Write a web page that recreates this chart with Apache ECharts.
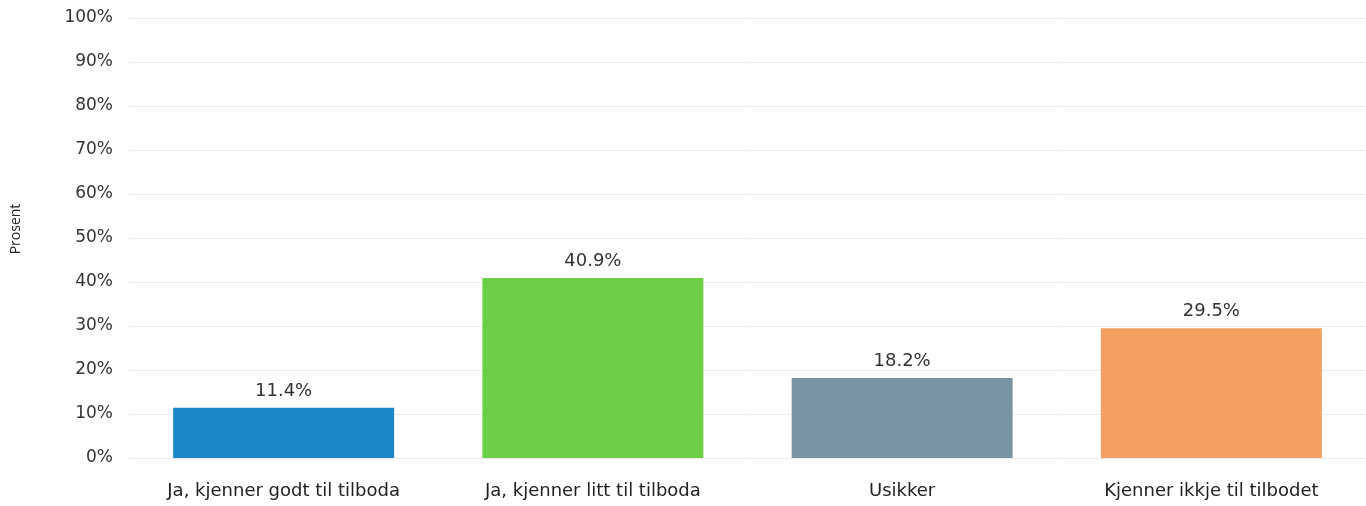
<!DOCTYPE html>
<html>
<head>
<meta charset="utf-8">
<script src="https://cdn.jsdelivr.net/npm/echarts@6/dist/echarts.min.js"></script>
<style>html,body{margin:0;padding:0;background:#fff;}#c{width:1366px;height:506px;}</style>
</head>
<body>
<div id="c"></div>
<script>
const categories = ["Ja, kjenner godt til tilboda", "Ja, kjenner litt til tilboda", "Usikker", "Kjenner ikkje til tilbodet"];
const values = [11.4, 40.9, 18.2, 29.5];
const barColors = ["#1b87c8", "#6dcf47", "#7a94a3", "#f4a062"];
const yTicks = [0, 10, 20, 30, 40, 50, 60, 70, 80, 90, 100];

const chart = echarts.init(document.getElementById('c'));
chart.setOption({
  animation: false,
  grid: { left: 129, right: -4, top: 18, bottom: 48 },
  xAxis: {
    type: 'category',
    data: categories,
    axisLine: { show: false },
    axisTick: { show: false },
    axisLabel: { color: '#222', fontSize: 18, fontFamily: 'DejaVu Sans', margin: 24 }
  },
  yAxis: {
    type: 'value',
    min: yTicks[0], max: yTicks[yTicks.length - 1], interval: 10,
    name: 'Prosent',
    nameLocation: 'middle',
    nameGap: 106,
    nameTextStyle: { color: '#222', fontSize: 14, fontFamily: 'Open Sans', padding: [0, 0, 0, 18] },
    axisLabel: { formatter: '{value}%', color: '#333', fontSize: 17, fontFamily: 'DejaVu Sans', margin: 16 },
    splitLine: { lineStyle: { color: '#ececec', width: 1 } },
    axisLine: { show: false },
    axisTick: { show: false }
  },
  series: [{
    type: 'bar',
    barWidth: 221,
    data: values.map((v, i) => ({ value: v, itemStyle: { color: barColors[i] } })),
    label: {
      show: true, position: 'top', distance: 8,
      formatter: p => p.value.toFixed(1) + '%',
      color: '#333', fontSize: 18, fontFamily: 'DejaVu Sans'
    }
  }]
});
</script>
</body>
</html>
